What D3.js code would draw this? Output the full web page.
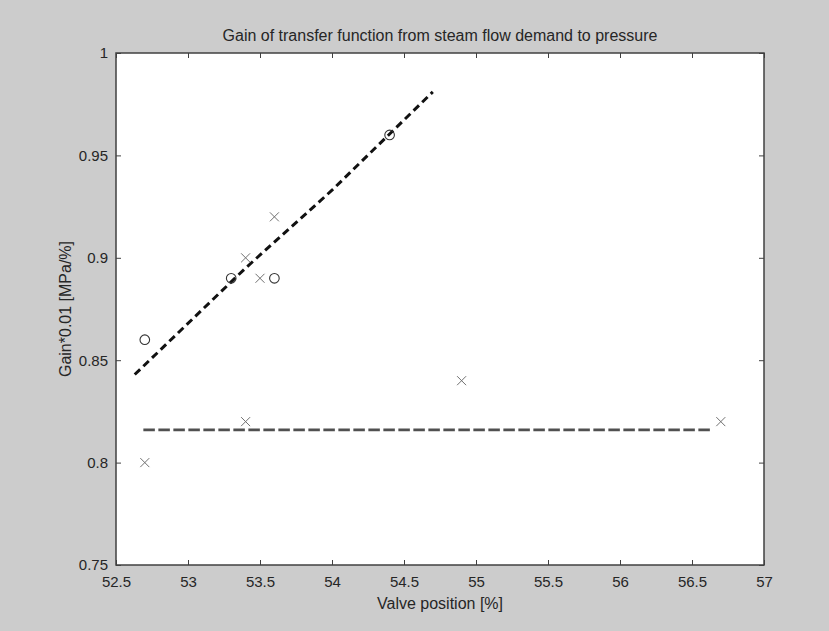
<!DOCTYPE html>
<html>
<head>
<meta charset="utf-8">
<script src="https://cdn.jsdelivr.net/npm/d3@7"></script>
<style>
  html, body { margin: 0; padding: 0; background: #cccccc; }
  svg text { font-family: "Liberation Sans", Arial, sans-serif; fill: #262626; }
</style>
</head>
<body>
<svg id="chart" width="829" height="631"></svg>
<script>
// Measured gains (circles = one test series, crosses = the other)
const circleX = [52.7, 53.3, 53.6, 54.4];
const circleY = [0.86, 0.89, 0.89, 0.96];
const crossX = [52.7, 53.4, 53.4, 53.5, 53.6, 54.9, 56.7];
const crossY = [0.80, 0.82, 0.90, 0.89, 0.92, 0.84, 0.82];

// Fitted trend lines
const fitRisingX = [52.63, 53.4, 54.0, 54.7];
const fitRisingY = [0.843, 0.895, 0.933, 0.981];
const fitFlatX = [52.69, 56.64];
const fitFlatY = [0.816, 0.816];

// Axis ticks
const xTicks = [52.5, 53, 53.5, 54, 54.5, 55, 55.5, 56, 56.5, 57];
const yTicks = [0.75, 0.8, 0.85, 0.9, 0.95, 1];

const titleText = "Gain of transfer function from steam flow demand to pressure";
const xLabelText = "Valve position [%]";
const yLabelText = "Gain*0.01 [MPa/%]";

const svg = d3.select("#chart");
const plotL = 116, plotR = 764, plotT = 53, plotB = 565;

const x = d3.scaleLinear().domain([52.5, 57]).range([plotL, plotR]);
const y = d3.scaleLinear().domain([0.75, 1]).range([plotB, plotT]);

// Plot area
svg.append("rect")
  .attr("x", plotL).attr("y", plotT)
  .attr("width", plotR - plotL).attr("height", plotB - plotT)
  .attr("fill", "#ffffff");

const tickFmt = d => String(d);
const axisColor = "#404040";
const tickFont = 15;
const labelFont = 16;

function styleAxis(g, hideText) {
  g.select(".domain").remove();
  g.selectAll(".tick line").attr("stroke", axisColor).attr("stroke-width", 1);
  g.selectAll(".tick text").attr("font-size", tickFont).attr("fill", "#262626");
  if (hideText) g.selectAll(".tick text").remove();
}

svg.append("g").attr("transform", `translate(0,${plotB})`)
  .call(d3.axisBottom(x).tickValues(xTicks).tickFormat(tickFmt).tickSizeInner(-5).tickPadding(11))
  .call(g => styleAxis(g, false));
svg.append("g").attr("transform", `translate(0,${plotT})`)
  .call(d3.axisTop(x).tickValues(xTicks).tickSizeInner(-5))
  .call(g => styleAxis(g, true));
svg.append("g").attr("transform", `translate(${plotL},0)`)
  .call(d3.axisLeft(y).tickValues(yTicks).tickFormat(tickFmt).tickSizeInner(-5).tickPadding(8))
  .call(g => styleAxis(g, false));
svg.append("g").attr("transform", `translate(${plotR},0)`)
  .call(d3.axisRight(y).tickValues(yTicks).tickSizeInner(-5))
  .call(g => styleAxis(g, true));

// Frame
svg.append("rect")
  .attr("x", plotL).attr("y", plotT)
  .attr("width", plotR - plotL).attr("height", plotB - plotT)
  .attr("fill", "none").attr("stroke", axisColor).attr("stroke-width", 1.5);

const line = d3.line().x(d => x(d[0])).y(d => y(d[1]));

// Flat trend line
svg.append("path")
  .datum(d3.zip(fitFlatX, fitFlatY))
  .attr("d", line)
  .attr("fill", "none").attr("stroke", "#505050")
  .attr("stroke-width", 2.8).attr("stroke-dasharray", "11.5,3.5");

// Rising trend line
svg.append("path")
  .datum(d3.zip(fitRisingX, fitRisingY))
  .attr("d", line)
  .attr("fill", "none").attr("stroke", "#111111")
  .attr("stroke-width", 3).attr("stroke-dasharray", "7.5,4.5");

// Circles
svg.append("g").selectAll("circle")
  .data(d3.zip(circleX, circleY))
  .join("circle")
  .attr("cx", d => x(d[0])).attr("cy", d => y(d[1]))
  .attr("r", 4.8)
  .attr("fill", "none").attr("stroke", "#333333").attr("stroke-width", 1.1);

// Crosses
const cs = 4.5;
svg.append("g").selectAll("path")
  .data(d3.zip(crossX, crossY))
  .join("path")
  .attr("d", d => {
    const cx = x(d[0]), cy = y(d[1]);
    return `M${cx - cs},${cy - cs}L${cx + cs},${cy + cs}M${cx - cs},${cy + cs}L${cx + cs},${cy - cs}`;
  })
  .attr("fill", "none").attr("stroke", "#707070").attr("stroke-width", 1);

// Titles
svg.append("text")
  .attr("x", (plotL + plotR) / 2).attr("y", 41)
  .attr("text-anchor", "middle").attr("font-size", labelFont)
  .text(titleText);

svg.append("text")
  .attr("x", (plotL + plotR) / 2).attr("y", 609)
  .attr("text-anchor", "middle").attr("font-size", labelFont)
  .text(xLabelText);

svg.append("text")
  .attr("transform", `translate(71,${(plotT + plotB) / 2}) rotate(-90)`)
  .attr("text-anchor", "middle").attr("font-size", labelFont)
  .text(yLabelText);
</script>
</body>
</html>
